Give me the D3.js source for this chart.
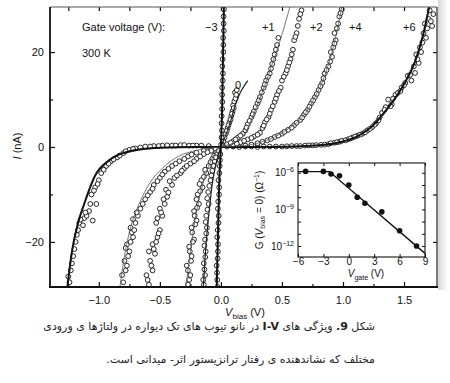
<!DOCTYPE html>
<html lang="en">
<head>
<meta charset="UTF-8">
<title>I-V characteristics</title>
<script src="https://d3js.org/d3.v7.min.js"></script>
<style>
  body { margin: 0; background: #fff; }
  #wrap { position: relative; width: 450px; height: 383px; }
  .cap { position: absolute; right: 75px; direction: rtl; font-family: "DejaVu Sans", sans-serif; font-size: 11px; color: #222; white-space: nowrap; }
</style>
</head>
<body>
<div id="wrap"></div>
<script>
// ---- data ----
// fitted curves, [Vbias (V), I (nA)]
var fitM3 = [[-0.035,-30],[-0.02,-14],[-0.01,-5],[0,0],[0.008,6],[0.015,16],[0.025,30]]
var fit0  = [[-0.145,-30],[-0.12,-20],[-0.09,-12],[-0.06,-6],[-0.03,-2.5],[0,0],[0.04,2.5],[0.08,5.5],[0.12,9],[0.17,12],[0.22,14]]
var fitP1 = [[-0.29,-30],[-0.25,-22],[-0.21,-15],[-0.16,-9],[-0.1,-4],[0,0],[0.1,0.8],[0.2,3],[0.25,5.8],[0.3,9],[0.36,13],[0.42,17.5],[0.48,22],[0.57,30]]
var fitP4 = [[-0.83,-30],[-0.79,-23],[-0.74,-17],[-0.67,-12],[-0.58,-7.5],[-0.48,-4.5],[-0.35,-2],[-0.2,-0.7],[0,0],[0.2,0.3],[0.3,0.8],[0.44,2.1],[0.55,3.8],[0.65,5.8],[0.71,7.8],[0.77,10.5],[0.85,15],[0.92,21],[0.99,29.5],[1.0,31]]
var fitP6 = [[-1.26,-30],[-1.22,-22],[-1.17,-16],[-1.12,-12],[-1.03,-6],[-0.91,-2.7],[-0.75,-0.9],[-0.5,-0.15],[-0.2,0],[0,0],[0.4,0],[0.7,0.2],[0.85,0.45],[0.99,1.1],[1.12,2.3],[1.24,4.4],[1.32,6.7],[1.4,9.3],[1.51,13.7],[1.59,18],[1.65,23],[1.71,30]]

// measured points, [Vbias (V), I (nA)]
var ptsM3 = [[-0.03,-28],[-0.035,-25],[-0.025,-22],[-0.03,-19],[-0.02,-16],[-0.025,-13],[-0.015,-10],[-0.02,-7],[-0.01,-4],[-0.005,-1.5],
  [0.005,2],[0.005,5],[0.01,8],[0.01,11],[0.015,14],[0.012,17],[0.02,20],[0.018,23],[0.022,26],[0.025,29],
  [-0.028,-29.5],[-0.032,-26.5],[-0.027,-23.5],[-0.024,-20.5],[-0.026,-17.5],[-0.018,-14.5],[-0.022,-11.5],[-0.014,-8.5],[-0.012,-5.5],[-0.008,-2.8],
  [0.002,0.5],[0.008,3.5],[0.006,6.5],[0.012,9.5],[0.01,12.5],[0.016,15.5],[0.014,18.5],[0.02,21.5],[0.024,24.5],[0.022,27.5]]
var pts0 = [[-0.14,-29],[-0.13,-27],[-0.14,-24.5],[-0.125,-22],[-0.13,-19.5],[-0.115,-17],[-0.12,-14.5],[-0.1,-12],[-0.105,-9.5],[-0.085,-7],[-0.07,-5],[-0.05,-3],[-0.03,-1.5],
  [0.02,1.2],[0.04,2.8],[0.055,4],[0.07,5.2],[0.085,6.5],[0.095,7.5],[0.1,8.8],[0.11,9.6],[0.12,10.2],[0.115,11.5],[0.13,12],
  [-0.145,-28],[-0.135,-25.8],[-0.128,-23.2],[-0.135,-20.8],[-0.12,-18.2],[-0.125,-15.8],[-0.11,-13.2],[-0.112,-10.8],[-0.095,-8.2],[-0.078,-6],[-0.06,-4],[-0.04,-2.2],[-0.02,-0.8],
  [0.01,0.5],[0.03,2],[0.048,3.4],[0.062,4.6],[0.078,5.8],[0.09,7],[0.105,8.2],[0.125,11]]
var ptsP1 = [[-0.27,-29],[-0.25,-27],[-0.28,-25],[-0.24,-23],[-0.26,-21],[-0.22,-19.5],[-0.24,-17],[-0.2,-15.5],[-0.22,-13.5],[-0.18,-12],[-0.19,-10],[-0.15,-8.5],[-0.16,-7],[-0.12,-5.5],[-0.1,-4],[-0.07,-2.5],[-0.04,-1.2],
  [0.05,0.6],[0.1,1.2],[0.14,2],[0.18,2.8],[0.2,3.5],[0.22,4.8],[0.25,6.3],[0.27,7.5],[0.3,9.2],[0.32,10.5],[0.35,12.5],[0.37,14],[0.4,15.5],[0.42,17.5],[0.44,19.5],[0.46,21.5],[0.47,23],
  [-0.26,-28],[-0.27,-26],[-0.245,-24],[-0.255,-22],[-0.23,-20],[-0.235,-18],[-0.21,-16.3],[-0.215,-14.5],[-0.195,-12.8],[-0.2,-11],[-0.17,-9.3],[-0.175,-7.8],[-0.14,-6.3],[-0.13,-4.8],[-0.085,-3.2],[-0.055,-1.8],
  [0.08,0.9],[0.12,1.6],[0.16,2.4],[0.21,4.1],[0.235,5.5],[0.26,6.9],[0.285,8.4],[0.31,9.8],[0.335,11.5],[0.36,13.2],[0.385,14.8],[0.41,16.5],[0.43,18.5],[0.45,20.5]]
var ptsP2 = [[-0.59,-29],[-0.61,-27],[-0.56,-26],[-0.58,-24],[-0.54,-22.5],[-0.56,-20.5],[-0.52,-19],[-0.5,-17.5],[-0.53,-16],[-0.48,-14.5],[-0.5,-13],[-0.46,-12],[-0.44,-10.5],[-0.45,-9],[-0.4,-8],[-0.38,-6.5],[-0.33,-5.5],[-0.3,-4.5],[-0.25,-3.5],[-0.2,-2.5],[-0.14,-1.5],[-0.08,-0.8],
  [0.1,0.5],[0.16,1],[0.22,1.6],[0.27,2.2],[0.32,3],[0.34,4],[0.36,5.2],[0.39,6.3],[0.41,7.8],[0.44,9.5],[0.46,11],[0.49,12.5],[0.5,14],[0.53,15.5],[0.55,17],[0.57,18.5],[0.59,20.5],[0.6,22.5],[0.62,24],[0.63,25.5],[0.64,27],[0.66,28.8],
  [-0.6,-28],[-0.57,-25],[-0.59,-22],[-0.55,-21.5],[-0.53,-20],[-0.51,-18.2],[-0.52,-15],[-0.49,-13.8],[-0.47,-11],[-0.43,-9.6],[-0.42,-7.2],[-0.36,-6],[-0.32,-5],[-0.28,-4],[-0.22,-3],[-0.17,-2],[-0.11,-1.1],
  [0.13,0.7],[0.19,1.3],[0.25,1.9],[0.3,2.6],[0.35,4.5],[0.375,5.8],[0.4,7],[0.425,8.6],[0.45,10.2],[0.475,11.8],[0.515,14.8],[0.54,16.2],[0.56,17.8],[0.58,19.5],[0.61,23.2],[0.65,28]]
var ptsP4 = [[-0.8,-28.5],[-0.78,-26],[-0.79,-24],[-0.75,-22],[-0.77,-20.5],[-0.72,-19],[-0.74,-17],[-0.7,-16],[-0.68,-14.5],[-0.66,-13],[-0.62,-11],[-0.58,-9.5],[-0.55,-8],[-0.5,-6.5],[-0.46,-5.2],[-0.4,-4],[-0.34,-3],[-0.27,-2],[-0.2,-1.2],
  [0.2,0.3],[0.3,0.8],[0.38,1.4],[0.44,2.1],[0.5,2.8],[0.55,3.6],[0.6,4.6],[0.65,5.7],[0.68,6.8],[0.71,7.8],[0.74,9.2],[0.77,10.5],[0.8,12],[0.83,13.5],[0.85,15.5],[0.88,17],[0.91,19],[0.92,21],[0.94,22.5],[0.93,24],[0.96,26],[0.97,27.5],[0.99,29],
  [-0.81,-27],[-0.77,-25],[-0.76,-23],[-0.78,-21.3],[-0.74,-20],[-0.73,-18],[-0.71,-17.5],[-0.72,-15.2],[-0.69,-13.8],[-0.64,-12],[-0.6,-10.2],[-0.56,-8.8],[-0.52,-7.2],[-0.48,-5.8],[-0.43,-4.6],[-0.37,-3.5],[-0.3,-2.5],[-0.24,-1.6],[-0.14,-0.7],[-0.08,-0.3],
  [0.1,0.2],[0.25,0.5],[0.34,1.1],[0.41,1.7],[0.47,2.4],[0.52,3.2],[0.58,4.1],[0.62,5.1],[0.665,6.2],[0.695,7.3],[0.725,8.5],[0.755,9.8],[0.785,11.2],[0.815,12.8],[0.84,14.5],[0.865,16.2],[0.895,18],[0.9,20],[0.93,21.8],[0.95,25],[0.98,28.2]]
var ptsP6 = [[-1.24,-28.5],[-1.23,-26],[-1.21,-23],[-1.19,-20],[-1.17,-17.5],[-1.16,-16],[-1.12,-15],[-1.1,-14.5],[-1.08,-13.5],[-1.05,-15.5],[-1.13,-16.5],[-1.02,-12],[-1.06,-10],[-1.03,-8.5],[-1.0,-7],[-0.98,-5.5],[-0.94,-4],[-0.9,-3],[-0.85,-2.2],[-0.8,-1.3],[-0.75,-0.6],[-0.7,-0.3],[-0.62,0.1],[-0.55,0.2],[-0.48,0.3],[-0.4,0.3],[-0.33,0.4],[-0.26,0.3],[-0.2,0.3],
  [-1.25,-27.3],[-1.22,-24.5],[-1.2,-21.5],[-1.18,-18.5],[-1.15,-15.3],[-1.11,-13.8],[-1.07,-12],[-1.04,-9.2],[-1.01,-7.8],[-0.96,-4.8],[-0.92,-3.5],[-0.88,-2.6],[-0.83,-1.8],
  [-0.78,-0.9],[-0.72,-0.4],[-0.66,-0.1],[-0.58,0.1],[-0.51,0.2],[-0.44,0.35],[-0.37,0.3],[-0.3,0.4],[-0.23,0.3],[-0.16,0.3],[-0.1,0.2],
  [0.05,0.1],[0.1,0.1],[0.15,0],[0.2,0.1],[0.25,0.1],[0.3,0],[0.35,0.1],[0.45,0.1],[0.54,0.15],[0.62,0.2],[0.69,0.3],[0.75,0.35],[0.82,0.45],[0.88,0.6],[0.93,0.9],[0.97,1.1],
  [0.4,0.1],[0.5,0.1],[0.58,0.2],[0.65,0.2],[0.72,0.35],[0.78,0.4],[0.85,0.5],[0.9,0.8],[0.95,1],[0.99,1.3],[1.04,1.6],[1.08,2],[1.12,2.4],[1.16,2.8],[1.2,3.5],[1.24,4.2],[1.27,5],[1.3,6.2],[1.32,7.2],[1.35,8.4],[1.37,10],[1.4,9],[1.43,11],[1.45,11.4],[1.48,12.5],[1.51,13.5],[1.53,15],[1.56,14],[1.59,15.6],[1.62,17.7],[1.6,19.5],[1.63,21],[1.65,22],[1.66,24],[1.67,26],[1.7,27],[1.74,28],[1.73,25.5],
  [1.02,1.4],[1.06,1.8],[1.1,2.2],[1.14,2.6],[1.18,3.1],[1.22,3.8],[1.26,4.7],[1.29,5.6],[1.34,7.8],[1.39,8.6],[1.41,10.2],[1.47,11.8],[1.5,13],[1.55,15.2],[1.58,17],[1.61,18.5],[1.64,20],[1.68,23],[1.69,25],[1.72,26.5],[1.71,28.8]]

var gateLabels = ["\u22123", "0", "+1", "+2", "+4", "+6"]

// inset: zero-bias conductance vs gate voltage
var insetVgate = [-5.1, -3, -2.1, -1.1, 0, 1, 1.9, 3.9, 6, 8]
var insetG = [1.3e-6, 1.3e-6, 8e-7, 5.6e-7, 1e-7, 1e-8, 3.2e-9, 6.3e-10, 1.8e-11, 1e-12]
var insetFitV = [-6, -2.3, 9]
var insetFitG = [1.25e-6, 1.25e-6, 2.5e-13]

var xMajor = [-1.0, -0.5, 0, 0.5, 1.0, 1.5]
var xMinor = [-1.25, -0.75, -0.25, 0.25, 0.75, 1.25]
var yMajor = [-20, 0, 20]
var yMinor = [-10, 10]
var insetXTicks = [-6, -3, 0, 3, 6, 9]
var insetYMajor = [1e-6, 1e-9, 1e-12]
var insetYMinor = [1e-7, 1e-8, 1e-10, 1e-11]

// ---- chart ----
var W = 450, H = 383
var font = "'Liberation Sans', Arial, sans-serif"

var svg = d3.select("#wrap").append("svg")
    .attr("width", W).attr("height", H)
    .style("position", "absolute").style("left", 0).style("top", 0)
    .attr("font-family", font)

var x = d3.scaleLinear().domain([-1.40, 1.77]).range([50, 437])
var y = d3.scaleLinear().domain([-29.5, 29.5]).range([287, 7])

// scan shadow along right edge
var grad = svg.append("defs").append("linearGradient").attr("id", "shade")
    .attr("x1", 0).attr("x2", 1).attr("y1", 0).attr("y2", 0)
grad.append("stop").attr("offset", "0%").attr("stop-color", "#bbb")
grad.append("stop").attr("offset", "100%").attr("stop-color", "#fff")
svg.append("rect").attr("x", 438).attr("y", 0).attr("width", 10).attr("height", 290)
    .attr("fill", "url(#shade)").attr("opacity", 0.6)

svg.select("defs").append("clipPath").attr("id", "clip")
  .append("rect").attr("x", 50).attr("y", 7).attr("width", 387).attr("height", 280)

var plot = svg.append("g").attr("clip-path", "url(#clip)")

var line = d3.line().x(d => x(d[0])).y(d => y(d[1])).curve(d3.curveMonotoneX)
var lineY = d3.line().x(d => x(d[0])).y(d => y(d[1])).curve(d3.curveMonotoneY)

var series = [
  {pts: ptsP6, fit: fitP6, w: 2.0, c: "#111"},
  {pts: ptsP4, fit: fitP4, w: 0.8, c: "#555"},
  {pts: ptsP2, fit: null,  w: 0,   c: "#555"},
  {pts: ptsP1, fit: fitP1, w: 0.8, c: "#555"},
  {pts: pts0,  fit: fit0,  w: 1.2, c: "#222"},
  {pts: ptsM3, fit: fitM3, w: 2.0, c: "#111"}
]

series.forEach(function(s) {
  plot.selectAll(null).data(s.pts).enter().append("circle")
      .attr("cx", d => x(d[0])).attr("cy", d => y(d[1])).attr("r", 2.4)
      .attr("fill", "#fff").attr("stroke", "#111").attr("stroke-width", 0.9)
})
series.forEach(function(s) {
  if (!s.fit) return
  plot.append("path").datum(s.fit)
      .attr("d", s.fit === fitM3 || s.fit === fit0 ? lineY : line)
      .attr("fill", "none").attr("stroke", s.c).attr("stroke-width", s.w)
})

// axes (inward ticks)
function styleAxis(g) {
  g.select(".domain").remove()
  g.selectAll("line").attr("stroke", "#111").attr("stroke-width", 1.2)
  g.selectAll("text").attr("font-size", 11).attr("fill", "#111").attr("font-family", font)
}
svg.append("g").attr("transform", "translate(0,287)")
  .call(d3.axisBottom(x).tickValues(xMajor).tickSize(-5).tickPadding(9).tickFormat(d3.format(".1f")))
  .call(styleAxis)
svg.append("g").attr("transform", "translate(0,287)")
  .call(d3.axisBottom(x).tickValues(xMinor).tickSize(-3).tickFormat(""))
  .call(styleAxis)
svg.append("g").attr("transform", "translate(0,7)")
  .call(d3.axisTop(x).tickValues(xMajor.concat(xMinor)).tickSize(-4).tickFormat(""))
  .call(styleAxis)
svg.append("g").attr("transform", "translate(50,0)")
  .call(d3.axisLeft(y).tickValues(yMajor).tickSize(-5).tickPadding(6))
  .call(styleAxis)
svg.append("g").attr("transform", "translate(50,0)")
  .call(d3.axisLeft(y).tickValues(yMinor).tickSize(-3).tickFormat(""))
  .call(styleAxis)
svg.append("g").attr("transform", "translate(437,0)")
  .call(d3.axisRight(y).tickValues(yMajor.concat(yMinor)).tickSize(-4).tickFormat(""))
  .call(styleAxis)

// frame
svg.append("line").attr("x1", 50).attr("x2", 437).attr("y1", 7).attr("y2", 7).attr("stroke", "#555").attr("stroke-width", 1)
svg.append("line").attr("x1", 437).attr("x2", 437).attr("y1", 7).attr("y2", 287).attr("stroke", "#333").attr("stroke-width", 1.3)
svg.append("line").attr("x1", 50).attr("x2", 50).attr("y1", 7).attr("y2", 288).attr("stroke", "#111").attr("stroke-width", 1.8)
svg.append("line").attr("x1", 49).attr("x2", 438).attr("y1", 287).attr("y2", 287).attr("stroke", "#111").attr("stroke-width", 1.8)

// axis titles
var yl = svg.append("text").attr("transform", "translate(21,146) rotate(-90)")
    .attr("text-anchor", "middle").attr("font-size", 11).attr("fill", "#111")
yl.append("tspan").attr("font-style", "italic").text("I")
yl.append("tspan").text(" (nA)")

var xl = svg.append("text").attr("x", 245).attr("y", 316)
    .attr("text-anchor", "middle").attr("font-size", 11).attr("fill", "#111")
xl.append("tspan").attr("font-style", "italic").text("V")
xl.append("tspan").attr("font-size", 8).attr("dy", 3).text("bias")
xl.append("tspan").attr("dy", -3).text(" (V)")

// annotations
var ann = svg.append("g").attr("font-size", 11).attr("fill", "#111")
ann.append("text").attr("x", 82).attr("y", 31).text("Gate voltage (V):")
ann.append("text").attr("x", 82).attr("y", 57).text("300 K")
var labelPos = [[205, 31], [235, 89], [262, 31], [310, 31], [349, 31], [403, 31]]
gateLabels.forEach(function(t, i) {
  ann.append("text").attr("x", labelPos[i][0]).attr("y", labelPos[i][1]).text(t)
})

// ---- inset ----
var ix = d3.scaleLinear().domain([-6, 9]).range([298, 425])
var iy = d3.scaleLog().domain([Math.pow(10, -12.9), Math.pow(10, -5.2)]).range([257, 163])
var inset = svg.append("g")
inset.append("rect").attr("x", 298).attr("y", 163).attr("width", 127).attr("height", 94)
    .attr("fill", "#fff").attr("stroke", "#111").attr("stroke-width", 1.1)

function styleInset(g) {
  g.select(".domain").remove()
  g.selectAll("line").attr("stroke", "#111").attr("stroke-width", 1)
  g.selectAll("text").attr("font-size", 10).attr("fill", "#111").attr("font-family", font)
}
inset.append("g").attr("transform", "translate(0,257)")
  .call(d3.axisBottom(ix).tickValues(insetXTicks).tickSize(-3).tickPadding(1).tickFormat(d => d < 0 ? "\u2212" + (-d) : d))
  .call(styleInset)
inset.append("g").attr("transform", "translate(0,163)")
  .call(d3.axisTop(ix).tickValues(insetXTicks).tickSize(-3).tickFormat(""))
  .call(styleInset)
inset.append("g").attr("transform", "translate(298,0)")
  .call(d3.axisLeft(iy).tickValues(insetYMajor.concat(insetYMinor)).tickSize(-3).tickFormat(""))
  .call(styleInset)
inset.append("g").attr("transform", "translate(425,0)")
  .call(d3.axisRight(iy).tickValues(insetYMajor.concat(insetYMinor)).tickSize(-3).tickFormat(""))
  .call(styleInset)

insetYMajor.forEach(function(v) {
  var t = inset.append("text").attr("x", 294).attr("y", iy(v) + 3.5)
      .attr("text-anchor", "end").attr("font-size", 10).attr("fill", "#111")
  t.append("tspan").text("10")
  t.append("tspan").attr("font-size", 7).attr("dy", -4).text("\u2212" + Math.round(-Math.log10(v)))
})

var fitData = insetFitV.map((v, i) => [v, insetFitG[i]])
inset.append("path").datum(fitData)
    .attr("d", d3.line().x(d => ix(d[0])).y(d => iy(d[1])))
    .attr("fill", "none").attr("stroke", "#111").attr("stroke-width", 1.4)
inset.selectAll(null).data(insetVgate).enter().append("circle")
    .attr("cx", d => ix(d)).attr("cy", (d, i) => iy(insetG[i])).attr("r", 2.8)
    .attr("fill", "#111")

var il = inset.append("text").attr("transform", "translate(263,210) rotate(-90)")
    .attr("text-anchor", "middle").attr("font-size", 10).attr("fill", "#111")
il.append("tspan").text("G (")
il.append("tspan").attr("font-style", "italic").text("V")
il.append("tspan").attr("font-size", 7).attr("dy", 2).text("bias")
il.append("tspan").attr("dy", -2).text(" = 0) (\u03a9")
il.append("tspan").attr("font-size", 7).attr("dy", -4).text("\u22121")
il.append("tspan").attr("dy", 4).text(")")

var ixl = inset.append("text").attr("x", 366).attr("y", 277)
    .attr("text-anchor", "middle").attr("font-size", 10).attr("fill", "#111")
ixl.append("tspan").attr("font-style", "italic").text("V")
ixl.append("tspan").attr("font-size", 7).attr("dy", 3).text("gate")
ixl.append("tspan").attr("dy", -3).text(" (V)")

// ---- caption (Persian) ----
var wrap = d3.select("#wrap")
var c1 = wrap.append("div").attr("class", "cap").style("top", "320px")
c1.append("span").text("شکل ")
c1.append("b").text("9.")
c1.append("span").text(" ویژگی های ")
c1.append("b").text("I-V")
c1.append("span").text(" در نانو تیوب های تک دیواره در ولتاژها ی ورودی")
wrap.append("div").attr("class", "cap").style("top", "353px")
    .text("مختلف که نشاندهنده ی رفتار ترانزیستور اثر- میدانی است.")
</script>
</body>
</html>
